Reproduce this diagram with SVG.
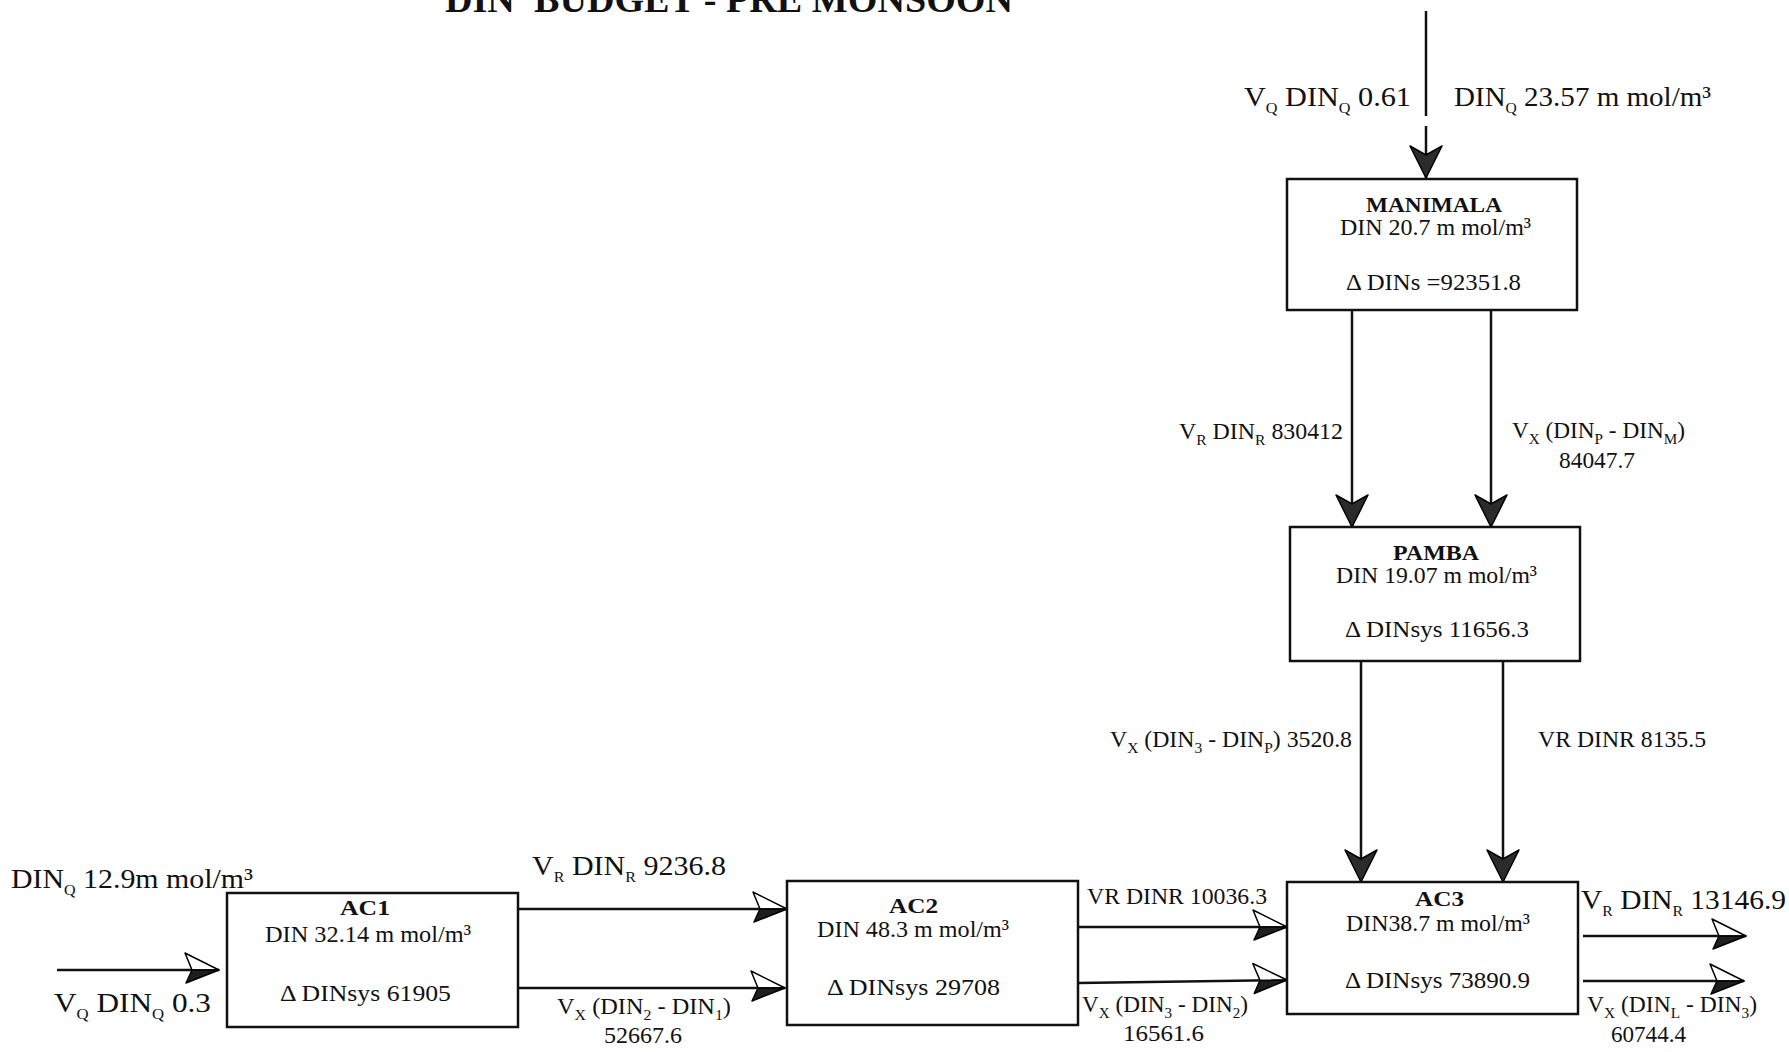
<svg xmlns="http://www.w3.org/2000/svg" width="1789" height="1052" viewBox="0 0 1789 1052">
<style>
text { font-family: "Liberation Serif", "Times New Roman", serif; fill: #111; }
.big { font-size: 28px; }
.sm { font-size: 23px; }
.bx { font-size: 24px; }
.hd { font-size: 22px; font-weight: bold; }
.title { font-size: 38px; font-weight: bold; white-space: pre; }
.sub { font-size: 15px; }
.box { fill: #fff; stroke: #111; stroke-width: 2.5; }
.ln { stroke: #111; stroke-width: 2.5; fill: none; }
</style>
<defs>
<marker id="mDark" markerUnits="userSpaceOnUse" markerWidth="44" markerHeight="44" viewBox="-38 -22 44 44" refX="0" refY="0" orient="auto">
<path d="M0,0 L-32,-16 L-23,0 L-32,16 Z" fill="#2b2b2b" stroke="#000" stroke-width="1.5" stroke-linejoin="round"/>
</marker>
<marker id="mSplit" markerUnits="userSpaceOnUse" markerWidth="44" markerHeight="44" viewBox="-38 -22 44 44" refX="0" refY="0" orient="auto">
<path d="M0,0 L-34,-17 L-27,0 Z" fill="#fff" stroke="#000" stroke-width="1.5" stroke-linejoin="round"/>
<path d="M0,0 L-27,0 L-33,13 Z" fill="#1e1e1e" stroke="#000" stroke-width="1.5" stroke-linejoin="round"/>
</marker>
</defs>
<rect x="0" y="0" width="1789" height="1052" fill="#fff"/>

<text class="title" x="445" y="12" textLength="568" lengthAdjust="spacingAndGlyphs">DIN  BUDGET - PRE MONSOON</text>

<g id="connectors">
  <line class="ln" x1="1426" y1="11" x2="1426" y2="116"/>
  <line class="ln" x1="1426" y1="126" x2="1426" y2="178" marker-end="url(#mDark)"/>
  <line class="ln" x1="1352" y1="311" x2="1352" y2="527" marker-end="url(#mDark)"/>
  <line class="ln" x1="1491" y1="311" x2="1491" y2="527" marker-end="url(#mDark)"/>
  <line class="ln" x1="1361" y1="662" x2="1361" y2="882" marker-end="url(#mDark)"/>
  <line class="ln" x1="1503" y1="662" x2="1503" y2="882" marker-end="url(#mDark)"/>
  <line class="ln" x1="57" y1="970" x2="219" y2="970" marker-end="url(#mSplit)"/>
  <line class="ln" x1="518" y1="909" x2="787" y2="909" marker-end="url(#mSplit)"/>
  <line class="ln" x1="518" y1="988" x2="785" y2="988" marker-end="url(#mSplit)"/>
  <line class="ln" x1="1078" y1="927" x2="1287" y2="927" marker-end="url(#mSplit)"/>
  <line class="ln" x1="1078" y1="983" x2="1287" y2="980" marker-end="url(#mSplit)"/>
  <line class="ln" x1="1583" y1="936" x2="1746" y2="936" marker-end="url(#mSplit)"/>
  <line class="ln" x1="1583" y1="981" x2="1744" y2="981" marker-end="url(#mSplit)"/>
</g>

<g id="connector-labels">
  <text class="big" x="1244" y="106" textLength="167" lengthAdjust="spacingAndGlyphs">V<tspan class="sub" dy="7">Q</tspan><tspan dy="-7"> DIN</tspan><tspan class="sub" dy="7">Q</tspan><tspan dy="-7"> 0.61</tspan></text>
  <text class="big" x="1454" y="106" textLength="257" lengthAdjust="spacingAndGlyphs">DIN<tspan class="sub" dy="7">Q</tspan><tspan dy="-7"> 23.57 m mol/m³</tspan></text>

  <text class="sm" x="1179" y="439" textLength="164" lengthAdjust="spacingAndGlyphs">V<tspan class="sub" dy="6">R</tspan><tspan dy="-6"> DIN</tspan><tspan class="sub" dy="6">R</tspan><tspan dy="-6"> 830412</tspan></text>
  <text class="sm" x="1512" y="438" textLength="173" lengthAdjust="spacingAndGlyphs">V<tspan class="sub" dy="6">X</tspan><tspan dy="-6"> (DIN</tspan><tspan class="sub" dy="6">P</tspan><tspan dy="-6"> - DIN</tspan><tspan class="sub" dy="6">M</tspan><tspan dy="-6">)</tspan></text>
  <text class="sm" x="1559" y="468" textLength="76" lengthAdjust="spacingAndGlyphs">84047.7</text>

  <text class="sm" x="1110" y="747" textLength="242" lengthAdjust="spacingAndGlyphs">V<tspan class="sub" dy="6">X</tspan><tspan dy="-6"> (DIN</tspan><tspan class="sub" dy="6">3</tspan><tspan dy="-6"> - DIN</tspan><tspan class="sub" dy="6">P</tspan><tspan dy="-6">) 3520.8</tspan></text>
  <text class="sm" x="1538" y="747" textLength="168" lengthAdjust="spacingAndGlyphs">VR DINR 8135.5</text>

  <text class="big" x="11" y="888" textLength="242" lengthAdjust="spacingAndGlyphs">DIN<tspan class="sub" dy="7">Q</tspan><tspan dy="-7"> 12.9m mol/m³</tspan></text>
  <text class="big" x="54" y="1012" textLength="157" lengthAdjust="spacingAndGlyphs">V<tspan class="sub" dy="7">Q</tspan><tspan dy="-7"> DIN</tspan><tspan class="sub" dy="7">Q</tspan><tspan dy="-7"> 0.3</tspan></text>

  <text class="big" x="532" y="875" textLength="194" lengthAdjust="spacingAndGlyphs">V<tspan class="sub" dy="7">R</tspan><tspan dy="-7"> DIN</tspan><tspan class="sub" dy="7">R</tspan><tspan dy="-7"> 9236.8</tspan></text>
  <text class="sm" x="557" y="1014" textLength="174" lengthAdjust="spacingAndGlyphs">V<tspan class="sub" dy="6">X</tspan><tspan dy="-6"> (DIN</tspan><tspan class="sub" dy="6">2</tspan><tspan dy="-6"> - DIN</tspan><tspan class="sub" dy="6">1</tspan><tspan dy="-6">)</tspan></text>
  <text class="sm" x="604" y="1043" textLength="78" lengthAdjust="spacingAndGlyphs">52667.6</text>

  <text class="sm" x="1087" y="904" textLength="180" lengthAdjust="spacingAndGlyphs">VR DINR 10036.3</text>
  <text class="sm" x="1082" y="1012" textLength="166" lengthAdjust="spacingAndGlyphs">V<tspan class="sub" dy="6">X</tspan><tspan dy="-6"> (DIN</tspan><tspan class="sub" dy="6">3</tspan><tspan dy="-6"> - DIN</tspan><tspan class="sub" dy="6">2</tspan><tspan dy="-6">)</tspan></text>
  <text class="sm" x="1123" y="1041" textLength="81" lengthAdjust="spacingAndGlyphs">16561.6</text>

  <text class="big" x="1581" y="909" textLength="205" lengthAdjust="spacingAndGlyphs">V<tspan class="sub" dy="7">R</tspan><tspan dy="-7"> DIN</tspan><tspan class="sub" dy="7">R</tspan><tspan dy="-7"> 13146.9</tspan></text>
  <text class="sm" x="1587" y="1012" textLength="170" lengthAdjust="spacingAndGlyphs">V<tspan class="sub" dy="6">X</tspan><tspan dy="-6"> (DIN</tspan><tspan class="sub" dy="6">L</tspan><tspan dy="-6"> - DIN</tspan><tspan class="sub" dy="6">3</tspan><tspan dy="-6">)</tspan></text>
  <text class="sm" x="1611" y="1042" textLength="75" lengthAdjust="spacingAndGlyphs">60744.4</text>
</g>

<g id="manimala">
  <rect class="box" x="1287" y="179" width="290" height="131"/>
  <text class="hd" x="1366" y="212" textLength="136" lengthAdjust="spacingAndGlyphs">MANIMALA</text>
  <text class="bx" x="1340" y="235" textLength="191" lengthAdjust="spacingAndGlyphs">DIN 20.7 m mol/m³</text>
  <text class="bx" x="1346" y="290" textLength="175" lengthAdjust="spacingAndGlyphs">Δ DINs =92351.8</text>
</g>

<g id="pamba">
  <rect class="box" x="1290" y="527" width="290" height="134"/>
  <text class="hd" x="1393" y="560" textLength="86" lengthAdjust="spacingAndGlyphs">PAMBA</text>
  <text class="bx" x="1336" y="583" textLength="201" lengthAdjust="spacingAndGlyphs">DIN 19.07 m mol/m³</text>
  <text class="bx" x="1345" y="637" textLength="184" lengthAdjust="spacingAndGlyphs">Δ DINsys 11656.3</text>
</g>

<g id="ac1">
  <rect class="box" x="227" y="893" width="291" height="134"/>
  <text class="hd" x="340" y="915" textLength="50" lengthAdjust="spacingAndGlyphs">AC1</text>
  <text class="bx" x="265" y="942" textLength="206" lengthAdjust="spacingAndGlyphs">DIN 32.14 m mol/m³</text>
  <text class="bx" x="280" y="1001" textLength="171" lengthAdjust="spacingAndGlyphs">Δ DINsys 61905</text>
</g>

<g id="ac2">
  <rect class="box" x="787" y="881" width="291" height="144"/>
  <text class="hd" x="889" y="913" textLength="49" lengthAdjust="spacingAndGlyphs">AC2</text>
  <text class="bx" x="817" y="937" textLength="192" lengthAdjust="spacingAndGlyphs">DIN 48.3 m mol/m³</text>
  <text class="bx" x="827" y="995" textLength="173" lengthAdjust="spacingAndGlyphs">Δ DINsys 29708</text>
</g>

<g id="ac3">
  <rect class="box" x="1287" y="882" width="291" height="132"/>
  <text class="hd" x="1415" y="906" textLength="49" lengthAdjust="spacingAndGlyphs">AC3</text>
  <text class="bx" x="1346" y="931" textLength="184" lengthAdjust="spacingAndGlyphs">DIN38.7 m mol/m³</text>
  <text class="bx" x="1345" y="988" textLength="185" lengthAdjust="spacingAndGlyphs">Δ DINsys 73890.9</text>
</g>
</svg>
